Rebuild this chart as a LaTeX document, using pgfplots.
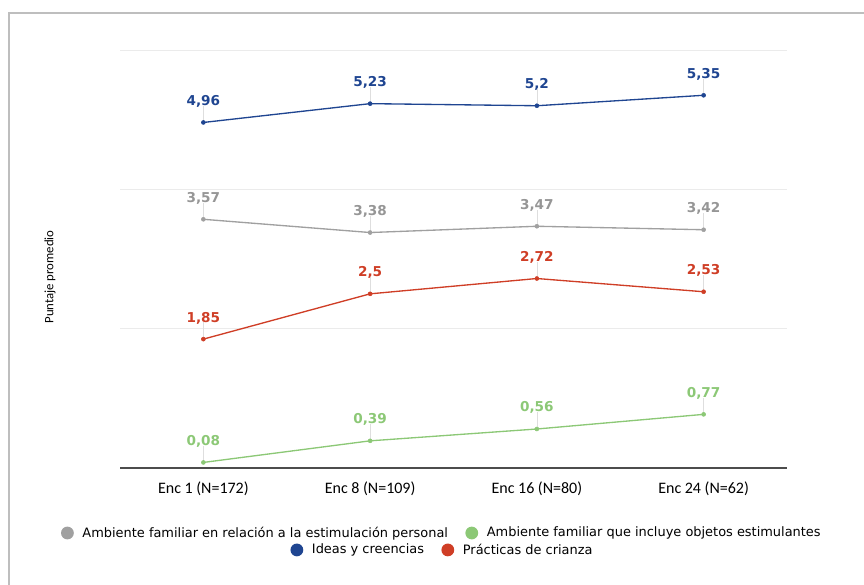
\documentclass[border=0pt]{standalone}
\usepackage{fontspec}
\setmainfont{DejaVu Sans}
\newfontfamily\carlito{Carlito}
\usepackage{pgfplots}
\pgfplotsset{compat=1.18}
\definecolor{cblue}{RGB}{31,69,145}
\definecolor{cgray}{RGB}{160,160,160}
\definecolor{cgraylab}{RGB}{150,150,150}
\definecolor{cred}{RGB}{207,62,38}
\definecolor{cgreen}{RGB}{140,200,118}
\definecolor{cgrid}{RGB}{235,235,235}
\definecolor{clead}{RGB}{222,222,222}
\definecolor{cframe}{RGB}{190,190,190}
\pgfplotsset{
  ser/.style 2 args={color=#1, line width=1pt, mark=*, mark size=1.5pt,
    mark options={solid, fill=#1, draw=#1, line width=0.4pt},
    nodes near coords={\pgfmathprintnumber[use comma,fixed,precision=2]{\pgfplotspointmeta}},
    every node near coord/.append style={anchor=base, yshift=12.75pt, inner sep=0pt,
      font=\fontsize{10.2}{12}\selectfont\bfseries, text=#2},
    error bars/y dir=plus, error bars/y fixed=0.24, error bars/error mark=none,
    error bars/error bar style={clead, line width=0.5pt, solid},
  },
  legcirc/.style={legend image code/.code={\fill[##1, draw=none] (0pt,0pt) circle (4.8pt);}},
  legsty/.style={legend style={draw=none, fill=none, at={#1}, anchor=center,
    font=\fontsize{9.7}{11}\selectfont, inner sep=0pt,
    /tikz/every odd column/.append style={column sep=4.5pt},
    /tikz/every even column/.append style={column sep=11pt}}},
}
\begin{document}
\begin{tikzpicture}
\useasboundingbox (0,0) rectangle (648pt,-438.75pt);
\draw[cframe, line width=1.5pt] (6.4pt,-9.4pt) rectangle (700pt,-500pt);
\begin{axis}[
  at={(90pt,-351pt)}, anchor=south west,
  scale only axis, width=500.25pt, height=313.5pt,
  xmin=-0.5, xmax=3.5, ymin=0, ymax=6,
  axis x line*=bottom, axis y line*=left,
  x axis line style={draw=black!70, line width=0.8pt, -},
  y axis line style={draw=none},
  xtick={0,1,2,3},
  xticklabels={Enc 1 (N=172), Enc 8 (N=109), Enc 16 (N=80), Enc 24 (N=62)},
  major tick length=0pt,
  xticklabel style={anchor=base, yshift=-18.75pt, font=\carlito\fontsize{12}{14}\selectfont},
  ytick={2,4,6}, yticklabels={},
  ymajorgrids, grid style={cgrid, line width=0.6pt},
  ylabel={Puntaje promedio},
  ylabel style={at={(axis description cs:-0.105,0.457)}, anchor=center, font=\carlito\fontsize{9.6}{11}\selectfont},
  /pgf/number format/assume math mode=true,
  clip=false,
  legcirc,
  legend columns=2,
  legsty={(0.483,-0.1555)},
]
\addplot[ser={cgray}{cgraylab}, forget plot] coordinates {(0,3.57) (1,3.38) (2,3.47) (3,3.42)};
\addplot[ser={cblue}{cblue}, forget plot] coordinates {(0,4.96) (1,5.23) (2,5.2) (3,5.35)};
\addplot[ser={cred}{cred}, forget plot] coordinates {(0,1.85) (1,2.5) (2,2.72) (3,2.53)};
\addplot[ser={cgreen}{cgreen}, forget plot] coordinates {(0,0.08) (1,0.39) (2,0.56) (3,0.77)};
\addlegendimage{fill=cgray}
\addlegendentry{Ambiente familiar en relación a la estimulación personal}
\addlegendimage{fill=cgreen}
\addlegendentry{Ambiente familiar que incluye objetos estimulantes}
\end{axis}
\begin{axis}[
  at={(90pt,-351pt)}, anchor=south west,
  scale only axis, width=500.25pt, height=313.5pt,
  xmin=-0.5, xmax=3.5, ymin=0, ymax=6,
  hide axis,
  legcirc,
  legend columns=2,
  legsty={(0.484,-0.196)},
]
\addlegendimage{fill=cblue}
\addlegendentry{Ideas y creencias}
\addlegendimage{fill=cred}
\addlegendentry{Prácticas de crianza}
\end{axis}
\end{tikzpicture}
\end{document}
